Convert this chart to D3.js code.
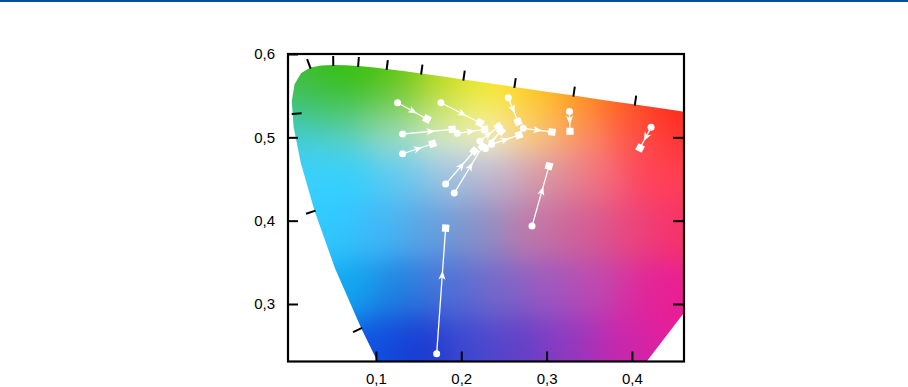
<!DOCTYPE html>
<html>
<head>
<meta charset="utf-8">
<script src="https://cdn.jsdelivr.net/npm/d3@7"></script>
<style>
  body { margin: 0; background: #fff; }
  svg { display: block; font-family: "Liberation Sans", Arial, sans-serif; }
</style>
</head>
<body>
<script>
// CIE 1931 2 deg spectral locus, 5 nm steps (380..700)
const wavelengths = d3.range(380, 701, 5);
const locusX = [0.1741,0.1740,0.1738,0.1736,0.1733,0.1730,0.1726,0.1721,0.1714,0.1703,0.1689,0.1669,0.1644,0.1611,0.1566,0.1510,0.1440,0.1355,0.1241,0.1096,0.0913,0.0687,0.0454,0.0235,0.0082,0.0039,0.0139,0.0389,0.0743,0.1142,0.1547,0.1929,0.2296,0.2658,0.3016,0.3373,0.3731,0.4087,0.4441,0.4788,0.5125,0.5448,0.5752,0.6029,0.6270,0.6482,0.6658,0.6801,0.6915,0.7006,0.7079,0.7140,0.7190,0.7230,0.7260,0.7283,0.7300,0.7311,0.7320,0.7327,0.7334,0.7340,0.7344,0.7346,0.7347];
const locusY = [0.0050,0.0050,0.0049,0.0049,0.0048,0.0048,0.0048,0.0048,0.0051,0.0058,0.0069,0.0086,0.0109,0.0138,0.0177,0.0227,0.0297,0.0399,0.0578,0.0868,0.1327,0.2007,0.2950,0.4127,0.5384,0.6548,0.7502,0.8120,0.8338,0.8262,0.8059,0.7816,0.7543,0.7243,0.6923,0.6589,0.6245,0.5896,0.5547,0.5202,0.4866,0.4544,0.4242,0.3965,0.3725,0.3514,0.3340,0.3197,0.3083,0.2993,0.2920,0.2859,0.2809,0.2770,0.2740,0.2717,0.2700,0.2689,0.2680,0.2673,0.2666,0.2660,0.2656,0.2654,0.2653];

// wavelength marks on the locus (nm) and which side the mark is drawn
const markWl   = [480, 490, 502.5, 520, 530, 540, 550, 560, 570, 580, 590, 600];
const markSide = [1, 1, -1, 1, 1, 1, 1, 1, 1, 1, 1, 1];

// colour shifts: start (circle) -> end (square), in u' v'
const startUV = [
  [0.1254, 0.5415], [0.1762, 0.5415], [0.2551, 0.5475], [0.1313, 0.5040],
  [0.1953, 0.5048], [0.1313, 0.4803], [0.3268, 0.5310], [0.4224, 0.5120],
  [0.2727, 0.5108], [0.2829, 0.3935], [0.1712, 0.2402], [0.1817, 0.4439],
  [0.1918, 0.4331], [0.2219, 0.4956], [0.2284, 0.4866], [0.2356, 0.4916]
];
const endUV = [
  [0.1598, 0.5220], [0.2219, 0.5175], [0.2665, 0.5187], [0.1894, 0.5096],
  [0.2274, 0.5096], [0.1665, 0.4923], [0.3274, 0.5072], [0.4095, 0.4872],
  [0.3063, 0.5064], [0.3028, 0.4655], [0.1817, 0.3911], [0.2152, 0.4836],
  [0.2249, 0.4890], [0.2436, 0.5127], [0.2465, 0.5076], [0.2676, 0.5028]
];

// colour of the diagram read at points of the picture (u', v', colour)
const swatchUV = [
  [0.017,0.569],[0.058,0.583],[0.105,0.575],[0.152,0.569],[0.199,0.566],[0.245,0.559],[0.292,0.553],[0.339,0.545],[0.386,0.535],[0.445,0.527],
  [0.008,0.540],[0.058,0.545],[0.116,0.545],[0.175,0.545],[0.222,0.539],[0.281,0.533],[0.339,0.527],[0.398,0.515],[0.451,0.503],
  [0.008,0.503],[0.058,0.509],[0.116,0.509],[0.175,0.509],[0.234,0.509],[0.292,0.509],[0.351,0.503],[0.410,0.497],[0.451,0.473],
  [0.029,0.455],[0.070,0.455],[0.128,0.455],[0.187,0.455],[0.245,0.455],[0.304,0.455],[0.363,0.455],[0.421,0.455],
  [0.046,0.389],[0.105,0.389],[0.163,0.389],[0.222,0.389],[0.281,0.389],[0.339,0.389],[0.398,0.389],[0.451,0.389],
  [0.070,0.317],[0.128,0.317],[0.187,0.317],[0.245,0.317],[0.304,0.317],[0.363,0.317],[0.421,0.317],[0.456,0.305],
  [0.099,0.251],[0.152,0.251],[0.210,0.251],[0.269,0.251],[0.327,0.251],[0.386,0.251],[0.421,0.263]
];
const swatchColor = [
  "#44bc30","#30c000","#40c000","#88cc00","#e0e000","#fae818","#ffc000","#ff9000","#ff5000","#ff2000",
  "#40c070","#3cc03c","#6cc850","#c0e060","#f4f060","#ffd040","#ffa040","#ff6040","#ff3030",
  "#40d0f0","#68d0c8","#a8e0d0","#e0f0e0","#f8f8f0","#f8c8a8","#f89090","#ff5060","#ff4050",
  "#38d0ff","#30d0ff","#60c8f0","#a0c0e0","#c0b0c8","#d890a0","#f07080","#ff4060",
  "#30c8ff","#40b8f8","#60a0e0","#8890c8","#c078a8","#d06098","#e84880","#f83068",
  "#10a8f0","#2080e0","#5070d8","#7868c8","#a058c0","#c048b0","#e02898","#f01890",
  "#1050e0","#1838d0","#4048d0","#6040c8","#9038c0","#c028b0","#e020a0"
];

const xTicks = [0.1, 0.2, 0.3, 0.4];
const yTicks = [0.3, 0.4, 0.5, 0.6];

const W = 908, H = 387;
const plotL = 288, plotR = 684, plotT = 54, plotB = 361.5;

const x = d3.scaleLinear().domain([-0.003, 0.461]).range([plotL, plotR]);
const y = d3.scaleLinear().domain([0.231, 0.6]).range([plotB, plotT]);

const toUV = (cx, cy) => {
  const d = -2 * cx + 12 * cy + 3;
  return [4 * cx / d, 9 * cy / d];
};
const locusUV = locusX.map((cx, i) => toUV(cx, locusY[i]));
const wlIndex = d3.scaleLinear().domain(wavelengths).range(d3.range(wavelengths.length));
function uvAt(wl) {
  const t = wlIndex(wl), i = Math.min(Math.floor(t), locusUV.length - 2), f = t - i;
  return [locusUV[i][0] * (1 - f) + locusUV[i + 1][0] * f,
          locusUV[i][1] * (1 - f) + locusUV[i + 1][1] * f];
}

const svg = d3.select("body").append("svg")
    .attr("width", W)
    .attr("height", H);

// blue rule at the very top
svg.append("rect")
    .attr("x", 0).attr("y", 0)
    .attr("width", W).attr("height", 2)
    .attr("fill", "#00529b");

const defs = svg.append("defs");
defs.append("clipPath").attr("id", "plot")
  .append("rect")
    .attr("x", plotL).attr("y", plotT)
    .attr("width", plotR - plotL).attr("height", plotB - plotT);

const line = d3.line().x(d => x(d[0])).y(d => y(d[1]));
defs.append("clipPath").attr("id", "locus")
  .append("path")
    .attr("d", line(locusUV) + "Z");

// smooth colour field blended from the swatches, painted on a canvas
const sw = swatchUV.map((p, i) => {
  const c = d3.rgb(swatchColor[i]);
  return { px: x(p[0]), py: y(p[1]), r: c.r, g: c.g, b: c.b };
});
const canvas = document.createElement("canvas");
canvas.width = plotR - plotL;
canvas.height = Math.ceil(plotB - plotT);
const ctx = canvas.getContext("2d");
const img = ctx.createImageData(canvas.width, canvas.height);
const sig2 = 2 * 24 * 24;
for (let j = 0; j < canvas.height; j++) {
  for (let i = 0; i < canvas.width; i++) {
    const px = plotL + i + 0.5, py = plotT + j + 0.5;
    let wr = 0, wg = 0, wb = 0, ws = 0;
    for (const s of sw) {
      const dx = px - s.px, dy = py - s.py;
      const w = Math.exp(-(dx * dx + dy * dy) / sig2) + 1e-12;
      wr += w * s.r; wg += w * s.g; wb += w * s.b; ws += w;
    }
    const k = (j * canvas.width + i) * 4;
    img.data[k] = wr / ws;
    img.data[k + 1] = wg / ws;
    img.data[k + 2] = wb / ws;
    img.data[k + 3] = 255;
  }
}
ctx.putImageData(img, 0, 0);

const plot = svg.append("g").attr("clip-path", "url(#plot)");
plot.append("g").attr("clip-path", "url(#locus)")
  .append("image")
    .attr("x", plotL).attr("y", plotT)
    .attr("width", canvas.width).attr("height", canvas.height)
    .attr("href", canvas.toDataURL());

// wavelength marks
const white = [x(0.1978), y(0.4683)];
plot.selectAll(".wl")
  .data(markWl)
  .enter().append("line")
    .attr("class", "wl")
    .each(function (wl, i) {
      const p = uvAt(wl), a = uvAt(wl - 2), b = uvAt(wl + 2);
      const px = x(p[0]), py = y(p[1]);
      let tx = x(b[0]) - x(a[0]), ty = y(b[1]) - y(a[1]);
      const len = Math.hypot(tx, ty);
      let nx = -ty / len, ny = tx / len;
      if (nx * (px - white[0]) + ny * (py - white[1]) < 0) { nx = -nx; ny = -ny; }
      const s = markSide[i];
      d3.select(this)
        .attr("x1", px - s * nx * 1).attr("y1", py - s * ny * 1)
        .attr("x2", px + s * nx * 9).attr("y2", py + s * ny * 9);
    })
    .attr("stroke", "#000")
    .attr("stroke-width", 2);

// arrows
const arrows = plot.append("g");
startUV.forEach((s, i) => {
  const e = endUV[i];
  const x1 = x(s[0]), y1 = y(s[1]), x2 = x(e[0]), y2 = y(e[1]);
  const ang = Math.atan2(y2 - y1, x2 - x1) * 180 / Math.PI;
  const g = arrows.append("g");
  g.append("line")
      .attr("x1", x1).attr("y1", y1)
      .attr("x2", x2).attr("y2", y2)
      .attr("stroke", "#fff")
      .attr("stroke-width", 1.3);
  const tx = x1 + (x2 - x1) * 0.66, ty = y1 + (y2 - y1) * 0.66;
  g.append("path")
      .attr("d", "M0,0L-9,-3.6L-6.5,0L-9,3.6Z")
      .attr("transform", "translate(" + tx + "," + ty + ") rotate(" + ang + ")")
      .attr("fill", "#fff");
  g.append("circle")
      .attr("cx", x1).attr("cy", y1)
      .attr("r", 3.5)
      .attr("fill", "#fff");
  g.append("rect")
      .attr("x", -3.6).attr("y", -3.6)
      .attr("width", 7.2).attr("height", 7.2)
      .attr("transform", "translate(" + x2 + "," + y2 + ") rotate(" + ang + ")")
      .attr("fill", "#fff");
});

// axes
const fmt = d => d3.format(".1f")(d).replace(".", ",");
svg.append("g")
    .attr("transform", "translate(0," + plotB + ")")
    .call(d3.axisBottom(x).tickValues(xTicks).tickSize(-10).tickPadding(11.5).tickFormat(fmt));
svg.append("g")
    .attr("transform", "translate(" + plotL + ",0)")
    .call(d3.axisLeft(y).tickValues(yTicks).tickSize(-10).tickPadding(13).tickFormat(fmt));
svg.append("g")
    .attr("transform", "translate(" + plotR + ",0)")
    .call(d3.axisRight(y).tickValues([0.3, 0.4, 0.5]).tickSize(-11).tickFormat(""));

svg.selectAll(".domain").remove();
svg.selectAll(".tick line").attr("stroke", "#000").attr("stroke-width", 2);
svg.selectAll(".tick text")
    .attr("fill", "#000")
    .style("font-size", "15px");

// frame
svg.append("rect")
    .attr("x", plotL).attr("y", plotT)
    .attr("width", plotR - plotL).attr("height", plotB - plotT)
    .attr("fill", "none")
    .attr("stroke", "#000")
    .attr("stroke-width", 2.2);
</script>
</body>
</html>
